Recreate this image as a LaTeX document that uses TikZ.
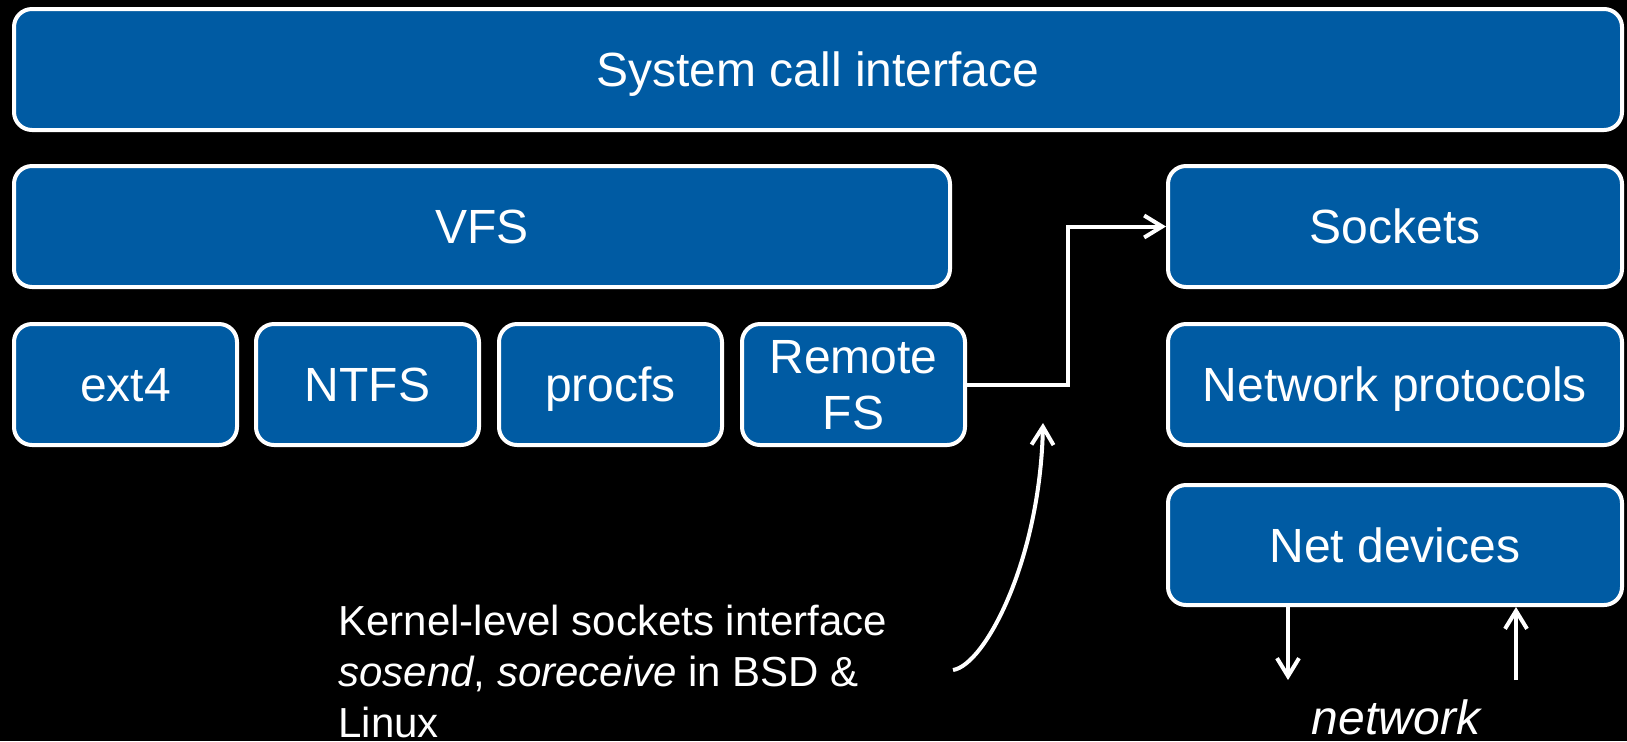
\documentclass[tikz,border=0pt]{standalone}
\usepackage{fontspec}
\setmainfont{Liberation Sans}
\usetikzlibrary{arrows.meta}
\definecolor{kblue}{RGB}{0,91,163}
\begin{document}
\begin{tikzpicture}[x=0.5pt,y=-0.5pt,
    layer/.style={draw=white,line width=2pt,fill=kblue,rounded corners=9pt,text=white,
        font=\fontsize{24}{28}\selectfont,align=center,inner sep=0pt,text depth=0pt,
        minimum height=60.5pt},
    fsbox/.style={layer,minimum width=111.5pt},
    netbox/.style={layer,minimum width=227pt},
    link/.style={draw=white,line width=2pt,-{Straight Barb[length=9pt,width=11pt]}}]
            \useasboundingbox (0,0) rectangle (1627,741);
            \fill[black] (0,0) rectangle (1627,741);

            \node[layer,minimum width=804pt] (syscall) at (818,69.5) {System call interface};
            \node[layer,minimum width=468pt] (vfs) at (482,226.5) {VFS};
            \node[netbox] (sockets) at (1395,226.5) {Sockets};

            \node[fsbox] (ext) at (125.5,384.5) {ext4};
            \node[fsbox] (ntfs) at (367.5,384.5) {NTFS};
            \node[fsbox] (procfs) at (610.5,384.5) {procfs};
            \node[fsbox] (remote) at (853.5,384.5) {Remote\\FS};
            \node[netbox] (proto) at (1395,384.5) {Network protocols};
            \node[netbox,minimum height=60pt] (netdev) at (1395,545) {Net devices};

            \node[anchor=base west,inner sep=0pt,align=left,text=white,
                font=\fontsize{21}{25.5}\selectfont] (note) at (338,737)
                {Kernel-level sockets interface\\\textit{sosend}, \textit{soreceive} in BSD \&\\Linux};
            \node[anchor=base,inner sep=0pt,text=white,
                font=\fontsize{24}{28}\selectfont\itshape] (wire) at (1396,734) {network};

            \coordinate (kstart) at (953,670);
            \coordinate (ktip) at (1043,423);
            \coordinate (netout) at (1288,680);
            \coordinate (netin) at (1516,680);

            \draw [link] (remote.east) -- ++(101,0) |- (sockets.west);
            \draw [link] (kstart) .. controls (985,665) and (1040,560) .. (ktip);
            \draw [link] (netdev.south -| netout) -- (netout);
            \draw [link] (netin) -- (netdev.south -| netin);
        \end{tikzpicture}
\end{document}
